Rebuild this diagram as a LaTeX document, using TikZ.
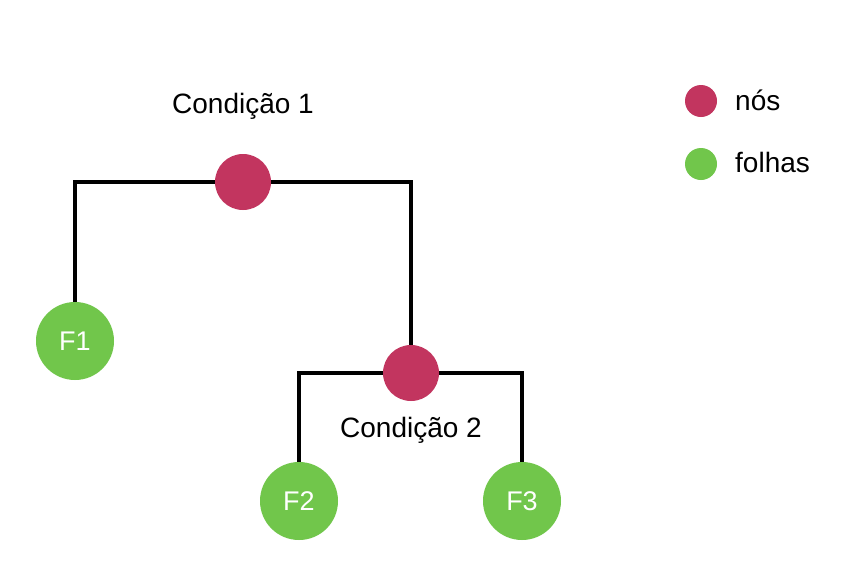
\documentclass[tikz,border=0pt]{standalone}
\usepackage{fontspec}
\setmainfont{Liberation Sans}
\definecolor{noscol}{HTML}{C2355F}
\definecolor{folhacol}{HTML}{71C64B}
\begin{document}
\begin{tikzpicture}[x=1pt,y=-1pt,
  nodecirc/.style={circle,fill=noscol,minimum size=56pt,inner sep=0pt},
  leafcirc/.style={circle,fill=folhacol,minimum size=78pt,inner sep=0pt,text=white,font=\fontsize{27}{27}\selectfont},
  legcirc/.style={circle,minimum size=32pt,inner sep=0pt},
  lbl/.style={anchor=base,inner sep=0pt,font=\fontsize{28}{28}\selectfont},
  edge/.style={line width=4pt,black}]
\useasboundingbox[fill=white] (0,0) rectangle (854,568);
\node[nodecirc] (n1) at (243,182) {};
\node[nodecirc] (n2) at (411,373) {};
\node[leafcirc] (F1) at (75,341) {F1};
\node[leafcirc] (F2) at (299,501) {F2};
\node[leafcirc] (F3) at (522,501) {F3};
\node[lbl] (c1) at (243,113) {Condição 1};
\node[lbl] (c2) at (411,437) {Condição 2};
\node[legcirc,fill=noscol] (ln) at (701,101) {};
\node[legcirc,fill=folhacol] (lf) at (701,164) {};
\node[lbl,anchor=base west] (tn) at (735,110) {nós};
\node[lbl,anchor=base west] (tf) at (735,172) {folhas};
\draw[edge] (F1.north) |- (n1.west);
\draw[edge] (n1.east) -| (n2.north);
\draw[edge] (F2.north) |- (n2.west);
\draw[edge] (n2.east) -| (F3.north);
\end{tikzpicture}
\end{document}
